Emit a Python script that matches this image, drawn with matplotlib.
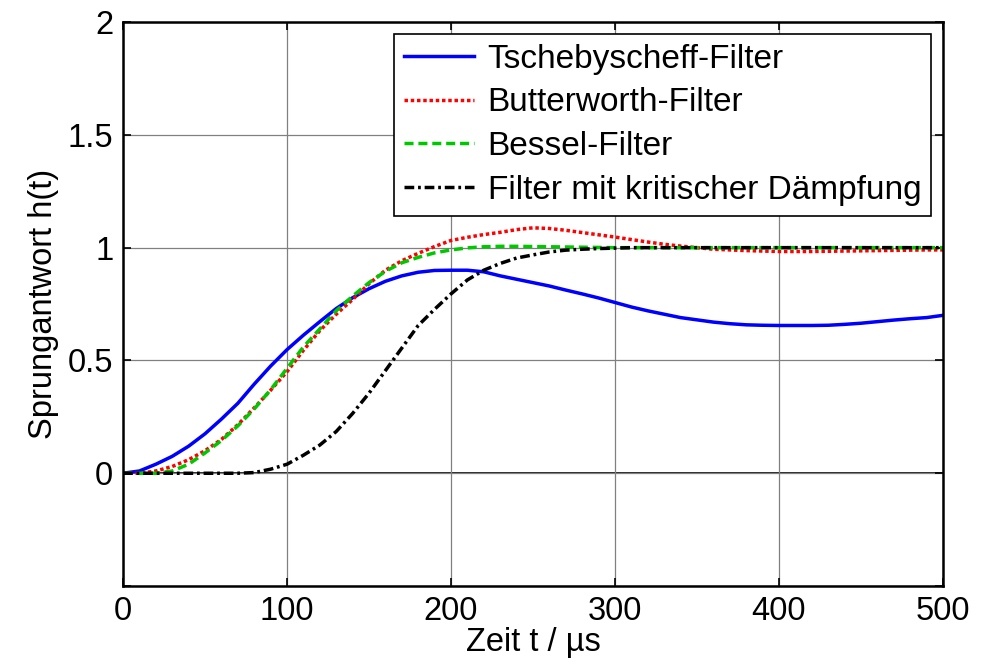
import numpy as np
import matplotlib
matplotlib.use('Agg')
import matplotlib.pyplot as plt
from matplotlib.ticker import FixedLocator, FixedFormatter

plt.rcParams['font.family'] = ['Liberation Sans', 'DejaVu Sans']

# time axis in microseconds
t = np.arange(0, 501, 10)

tscheby = [0.0, 0.01, 0.04, 0.075, 0.12, 0.175, 0.24, 0.31, 0.395, 0.475,
           0.548, 0.612, 0.672, 0.73, 0.778, 0.818, 0.851, 0.875, 0.891, 0.899,
           0.9, 0.9, 0.893, 0.875, 0.86, 0.845, 0.83, 0.812, 0.795, 0.777,
           0.757, 0.737, 0.72, 0.705, 0.69, 0.68, 0.67, 0.663, 0.658, 0.656,
           0.655, 0.655, 0.655, 0.656, 0.66, 0.665, 0.672, 0.679, 0.685, 0.69,
           0.70]

butter = [0.0, 0.0, 0.01, 0.03, 0.06, 0.10, 0.15, 0.215, 0.29, 0.368,
          0.45, 0.545, 0.632, 0.705, 0.77, 0.84, 0.90, 0.942, 0.975, 1.005,
          1.032, 1.046, 1.058, 1.068, 1.08, 1.088, 1.085, 1.077, 1.067, 1.057,
          1.047, 1.036, 1.025, 1.015, 1.007, 1.0, 0.993, 0.99, 0.987, 0.985,
          0.983, 0.983, 0.983, 0.984, 0.985, 0.986, 0.987, 0.988, 0.989, 0.99,
          0.99]

bessel = [0.0, 0.0, 0.0, 0.01, 0.04, 0.09, 0.145, 0.21, 0.285, 0.37,
          0.465, 0.56, 0.64, 0.72, 0.785, 0.845, 0.895, 0.933, 0.957, 0.977,
          0.99, 0.999, 1.004, 1.006, 1.006, 1.005, 1.004, 1.003, 1.002, 1.001,
          1.0, 1.0, 1.0, 1.0, 1.0, 1.0, 1.0, 1.0, 1.0, 1.0,
          1.0, 1.0, 1.0, 1.0, 1.0, 1.0, 1.0, 1.0, 1.0, 1.0,
          1.0]

krit = [0.0, 0.0, 0.0, 0.0, 0.0, 0.0, 0.0, 0.0, 0.003, 0.018,
        0.04, 0.08, 0.125, 0.185, 0.265, 0.355, 0.455, 0.555, 0.655, 0.727,
        0.795, 0.857, 0.9, 0.93, 0.954, 0.968, 0.981, 0.989, 0.993, 0.996,
        0.998, 1.0, 1.0, 1.0, 1.0, 1.0, 1.0, 1.0, 1.0, 1.0,
        1.0, 1.0, 1.0, 1.0, 1.0, 1.0, 1.0, 1.0, 1.0, 1.0,
        1.0]

labels = ['Tschebyscheff-Filter', 'Butterworth-Filter', 'Bessel-Filter',
          'Filter mit kritischer Dämpfung']

yticks = [-0.5, 0, 0.5, 1, 1.5, 2]
yticklabels = ['', '0', '0.5', '1', '1.5', '2']

fig = plt.figure(figsize=(9.93, 6.69), dpi=100)
ax = fig.add_axes([0.1239, 0.124, 0.8257, 0.843])

ax.grid(True, color='#808080', linewidth=0.9, linestyle='-')
ax.axhline(0, color='black', linewidth=1.2, zorder=1.5)

lw = 2.5
ax.plot(t, tscheby, color='#0000ff', linewidth=lw, linestyle='-', label=labels[0])
ax.plot(t, butter, color='#ff0000', linewidth=lw, linestyle=(0, (1, 0.8)), label=labels[1])
ax.plot(t, bessel, color='#00c800', linewidth=lw, linestyle=(0, (2.6, 1.4)), label=labels[2])
ax.plot(t, krit, color='black', linewidth=lw, linestyle=(0, (2.8, 1.1, 0.8, 1.1)), label=labels[3])

ax.set_xlim(0, 500)
ax.set_ylim(-0.5, 2)
ax.set_xticks([0, 100, 200, 300, 400, 500])
ax.yaxis.set_major_locator(FixedLocator(yticks))
ax.yaxis.set_major_formatter(FixedFormatter(yticklabels))
ax.tick_params(direction='in', length=6, width=1.2, top=True, right=True,
               labelsize=23.5, pad=7)
for s in ax.spines.values():
    s.set_linewidth(1.8)

ax.set_xlabel('Zeit t / µs', fontsize=23.5, labelpad=0)
ax.set_ylabel('Sprungantwort h(t)', fontsize=23.5, labelpad=6)

leg = ax.legend(loc='upper right', fontsize=24, frameon=True, fancybox=False,
                edgecolor='black', framealpha=1, handlelength=2.1,
                borderaxespad=0.35, labelspacing=0.38, borderpad=0.3,
                handletextpad=0.4)
leg.get_frame().set_linewidth(1.2)

fig.savefig('out.png', dpi=100)
